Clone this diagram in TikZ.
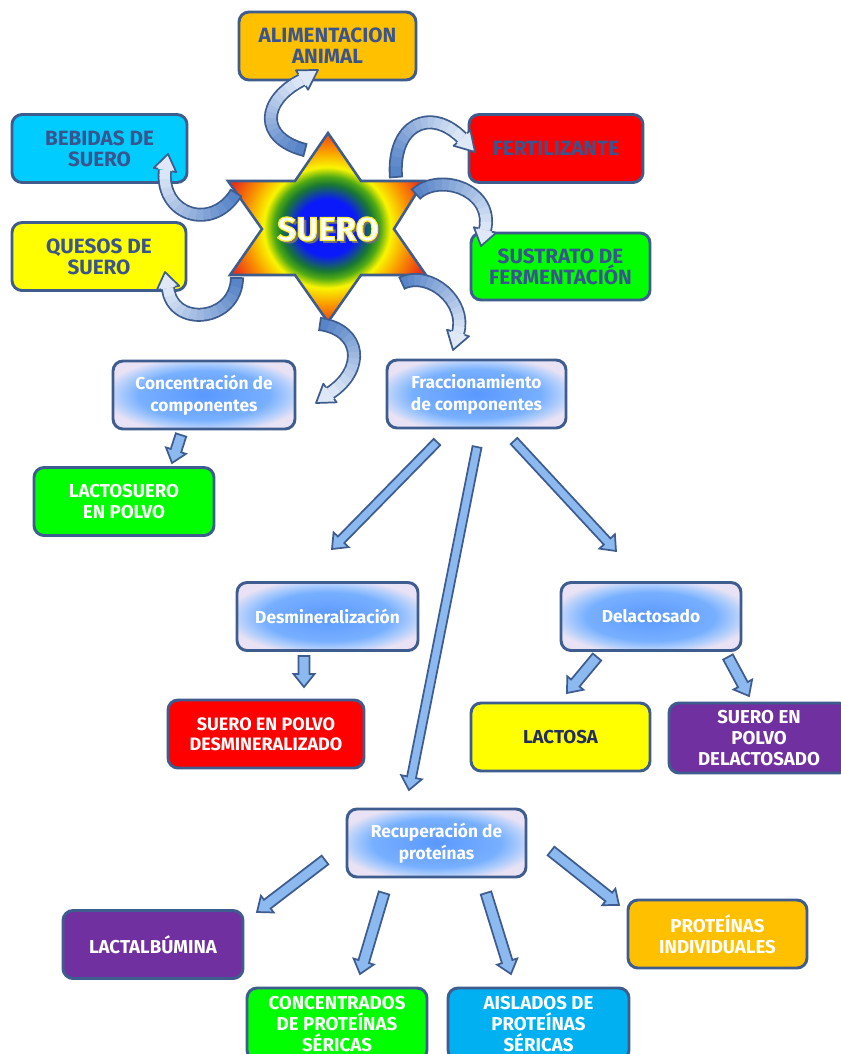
\documentclass[tikz,border=0pt]{standalone}
\usepackage{fontspec}
\setmainfont{Fira Sans}
\usetikzlibrary{calc}

% palette
\definecolor{edge}{RGB}{62,92,142}
\definecolor{inkblue}{RGB}{58,84,142}
\definecolor{navy}{RGB}{35,45,95}
\definecolor{cOrange}{RGB}{255,192,0}
\definecolor{cCyan}{RGB}{0,204,255}
\definecolor{cSky}{RGB}{0,176,240}
\definecolor{cYellow}{RGB}{255,255,0}
\definecolor{cRed}{RGB}{255,0,0}
\definecolor{cGreen}{RGB}{0,255,0}
\definecolor{cPurple}{RGB}{112,48,160}
\definecolor{procIn}{RGB}{90,152,255}
\definecolor{procSoft}{RGB}{120,176,255}
\definecolor{procMid}{RGB}{170,203,252}
\definecolor{procOut}{RGB}{232,226,244}
\definecolor{armDark}{RGB}{82,128,198}
\definecolor{armLight}{RGB}{222,232,247}
\definecolor{shaftFill}{RGB}{140,185,240}
\definecolor{sBlue}{RGB}{10,25,250}
\definecolor{sDkGreen}{RGB}{25,120,50}
\definecolor{sGreen}{RGB}{80,170,20}
\definecolor{sYellow}{RGB}{250,245,0}
\definecolor{sOrange}{RGB}{250,150,0}
\definecolor{sRed}{RGB}{235,50,25}
\definecolor{sueroShadow}{RGB}{110,110,120}

% glow inside the process boxes
\pgfdeclareradialshading{procglow}{\pgfpoint{0bp}{0bp}}{%
  color(0bp)=(procIn); color(18bp)=(procSoft); color(23bp)=(procMid); color(28bp)=(procOut); color(50bp)=(procOut)}
% rings of the central star
\pgfdeclareradialshading{starglow}{\pgfpoint{0bp}{0bp}}{%
  color(0bp)=(sBlue); color(7.5bp)=(sBlue); color(11.5bp)=(sDkGreen); color(13.5bp)=(sGreen);
  color(16bp)=(sYellow); color(20.5bp)=(sOrange); color(26bp)=(sRed); color(50bp)=(sRed)}

% white letters with a yellow rim (fill + stroke text rendering)
\newcommand\rimtext[1]{%
  \special{pdf:literal direct 2 Tr 0.9 w 1 0.95 0.2 RG}#1\special{pdf:literal direct 0 Tr}}

% straight block arrow from coordinate #2 to coordinate #3, shaft half width #1
\newcommand\blockarrow[3][3.4pt]{%
  \coordinate (neck) at ($(#3)!9.75pt!(#2)$);
  \filldraw[arrowbody] ($(#2)!#1!90:(#3)$) -- ($(neck)!#1!90:(#3)$)
    -- ($(neck)!7.9pt!90:(#3)$) -- (#3) -- ($(neck)!7.9pt!-90:(#3)$)
    -- ($(neck)!#1!-90:(#3)$) -- ($(#2)!#1!-90:(#3)$) -- cycle;
}

% curved block arrow: tail #1, controls #2 #3, head base #4, tip #5
\newcommand\bentarrow[5]{%
  \draw[line width=10.5pt, edge] (#1) .. controls (#2) and (#3) .. (#4);
  \foreach \k in {0,...,13}{%
    \pgfmathsetmacro\ta{\k/14}%
    \pgfmathsetmacro\tb{min(1,(\k+1)/14+0.02)}%
    \pgfmathtruncatemacro\mixp{100-100*(\k+0.5)/14}%
    \colorlet{bandtint}{armDark!\mixp!armLight}%
    \pgfsetstrokecolor{bandtint}%
    \pgfsetlinewidth{7.8pt}%
    \pgfpathcurvebetweentime{\ta}{\tb}{\pgfpointanchor{#1}{center}}{\pgfpointanchor{#2}{center}}%
      {\pgfpointanchor{#3}{center}}{\pgfpointanchor{#4}{center}}%
    \pgfusepath{stroke}%
  }
  \fill[armLight] ($(#4)!8.6pt!90:(#5)$) -- (#5) -- ($(#4)!8.6pt!-90:(#5)$) -- cycle;
  \draw[edge, line width=1.3pt, line join=round]
    ($(#4)!5.25pt!90:(#5)$) -- ($(#4)!8.6pt!90:(#5)$) -- (#5)
    -- ($(#4)!8.6pt!-90:(#5)$) -- ($(#4)!5.25pt!-90:(#5)$);
  \draw[edge, line width=1.3pt] ($(#1)!5.25pt!90:(#2)$) -- ($(#1)!5.25pt!-90:(#2)$);
}

\begin{document}
\begin{tikzpicture}[x=0.75pt, y=-0.75pt,
  box/.style={draw=edge, line width=2.2pt, rounded corners=7.5pt,
    minimum width=135pt, minimum height=51pt, inner sep=0pt, align=center},
  darklabel/.style={text=inkblue, font=\fontsize{15.5}{15.75}\selectfont\bfseries},
  whitecaps/.style={text=white, font=\fontsize{14}{15.75}\selectfont\bfseries},
  proclabel/.style={text=white, font=\fontsize{13}{16.5}\selectfont\bfseries},
  procbox/.style={box, shading=procglow, proclabel},
  arrowbody/.style={fill=shaftFill, draw=edge, line width=1.3pt, line join=miter},
  suerotxt/.style={font=\fontsize{25}{25}\selectfont\bfseries}]

\useasboundingbox[fill=white] (0,0) rectangle (840,1054);

% ---- products around the star
\node[box, darklabel, fill=cOrange, minimum width=132.75pt] (alim) at (327.5,46) {ALIMENTACION\\ANIMAL};
\node[box, darklabel, fill=cCyan, minimum width=131.25pt] (bebidas) at (99.5,148.5) {BEBIDAS DE\\SUERO};
\node[box, darklabel, fill=cYellow, minimum width=130.5pt] (quesos) at (99,256.5) {QUESOS DE\\SUERO};
\node[box, darklabel, fill=cRed, minimum width=130.5pt] (fert) at (556,148.5) {FERTILIZANTE};
\node[box, darklabel, fill=cGreen, minimum width=134.25pt, minimum height=50.25pt] (sustrato) at (560.5,266.5) {SUSTRATO DE\\FERMENTACIÓN};

% ---- processes and products
\node[procbox, minimum width=136.5pt] (conc) at (204,395) {Concentración de\\componentes};
\node[procbox, minimum width=134.25pt] (frac) at (476.5,394) {Fraccionamiento\\de componentes};
\node[box, whitecaps, fill=cGreen] (lacto) at (124,501.5) {LACTOSUERO\\EN POLVO};
\node[procbox, minimum width=135.75pt] (desmin) at (327.5,616.5) {Desmineralización};
\node[procbox] (delact) at (651,616.5) {Delactosado};
\node[box, whitecaps, font=\fontsize{13.5}{15}\selectfont\bfseries, fill=cRed, minimum width=147pt] (sueroD) at (266,734) {SUERO EN POLVO\\DESMINERALIZADO};
\node[box, whitecaps, text=navy, fill=cYellow, minimum width=134.25pt] (lactosa) at (560.5,737) {LACTOSA};
\node[box, whitecaps, fill=cPurple, minimum height=52.5pt] (sueroDel) at (759,738) {SUERO EN\\POLVO\\DELACTOSADO};
\node[procbox, minimum width=134.25pt] (recup) at (436.5,843) {Recuperación de\\proteínas};
\node[box, whitecaps, fill=cPurple] (lactalb) at (153,944.5) {LACTALBÚMINA};
\node[box, whitecaps, fill=cOrange, minimum width=134.25pt] (protInd) at (717.5,934) {PROTEÍNAS\\INDIVIDUALES};
\node[box, whitecaps, fill=cGreen, minimum height=54pt] (concent) at (337,1024) {CONCENTRADOS\\DE PROTEÍNAS\\SÉRICAS};
\node[box, whitecaps, fill=cSky, minimum width=135.75pt, minimum height=54pt] (aislados) at (538.5,1024) {AISLADOS DE\\PROTEÍNAS\\SÉRICAS};

% ---- central hexagram
\path[shading=starglow, draw=edge, line width=1.9pt, line join=miter]
  (328,133) -- (361,181) -- (424,181) -- (394,229) -- (426,275) -- (361,275)
  -- (328,322) -- (295,275) -- (230,275) -- (262,229) -- (228,181) -- (295,181) -- cycle;

% ---- curved arrows leaving the star
\coordinate (aT) at (305,150); \coordinate (aC1) at (258,138); \coordinate (aC2) at (262,100);
\coordinate (aP) at (302,80);  \coordinate (aQ) at (318,70);
\bentarrow{aT}{aC1}{aC2}{aP}{aQ}
\coordinate (bT) at (236,193); \coordinate (bC1) at (212,232); \coordinate (bC2) at (160,215);
\coordinate (bP) at (165,170); \coordinate (bQ) at (168,154);
\bentarrow{bT}{bC1}{bC2}{bP}{bQ}
\coordinate (cT) at (237,278); \coordinate (cC1) at (236,322); \coordinate (cC2) at (172,328);
\coordinate (cP) at (168,288); \coordinate (cQ) at (165,272);
\bentarrow{cT}{cC1}{cC2}{cP}{cQ}
\coordinate (dT) at (396,177); \coordinate (dC1) at (392,125); \coordinate (dC2) at (430,106);
\coordinate (dP) at (462,138); \coordinate (dQ) at (475,152);
\bentarrow{dT}{dC1}{dC2}{dP}{dQ}
\coordinate (eT) at (416,194); \coordinate (eC1) at (440,172); \coordinate (eC2) at (494,190);
\coordinate (eP) at (485,230); \coordinate (eQ) at (481,246);
\bentarrow{eT}{eC1}{eC2}{eP}{eQ}
\coordinate (fT) at (402,283); \coordinate (fC1) at (430,270); \coordinate (fC2) at (467,302);
\coordinate (fP) at (458,333); \coordinate (fQ) at (453,350);
\bentarrow{fT}{fC1}{fC2}{fP}{fQ}
\coordinate (gT) at (320,324); \coordinate (gC1) at (362,330); \coordinate (gC2) at (365,370);
\coordinate (gP) at (330,393); \coordinate (gQ) at (316,403);
\bentarrow{gT}{gC1}{gC2}{gP}{gQ}

% ---- star label: grey drop shadow, then white letters with a yellow rim
\node[suerotxt, text=sueroShadow] (sueroShade) at (331,232) {SUERO};
\node[suerotxt, text=white] (suero) at (328,229) {\rimtext{SUERO}};

% ---- straight arrows between the process steps
\coordinate (k1a) at (181,435); \coordinate (k1b) at (172,463);
\blockarrow[4.1pt]{k1a}{k1b}
\coordinate (k2a) at (437,442); \coordinate (k2b) at (332,549);
\blockarrow{k2a}{k2b}
\coordinate (k3a) at (477,447); \coordinate (k3b) at (409,790);
\blockarrow{k3a}{k3b}
\coordinate (k4a) at (514,441); \coordinate (k4b) at (616,551);
\blockarrow{k4a}{k4b}
\coordinate (k5a) at (304,656); \coordinate (k5b) at (304,687);
\blockarrow[4.1pt]{k5a}{k5b}
\coordinate (k6a) at (597,657); \coordinate (k6b) at (567,693);
\blockarrow[4.1pt]{k6a}{k6b}
\coordinate (k7a) at (728,657); \coordinate (k7b) at (749,696);
\blockarrow[4.1pt]{k7a}{k7b}
\coordinate (k8a) at (325,860); \coordinate (k8b) at (257,912);
\blockarrow[4.1pt]{k8a}{k8b}
\coordinate (k9a) at (384,893); \coordinate (k9b) at (360,974);
\blockarrow[4.1pt]{k9a}{k9b}
\coordinate (k10a) at (486,893); \coordinate (k10b) at (511,974);
\blockarrow[4.1pt]{k10a}{k10b}
\coordinate (k11a) at (551,851); \coordinate (k11b) at (619,905);
\blockarrow[4.1pt]{k11a}{k11b}
\end{tikzpicture}
\end{document}
